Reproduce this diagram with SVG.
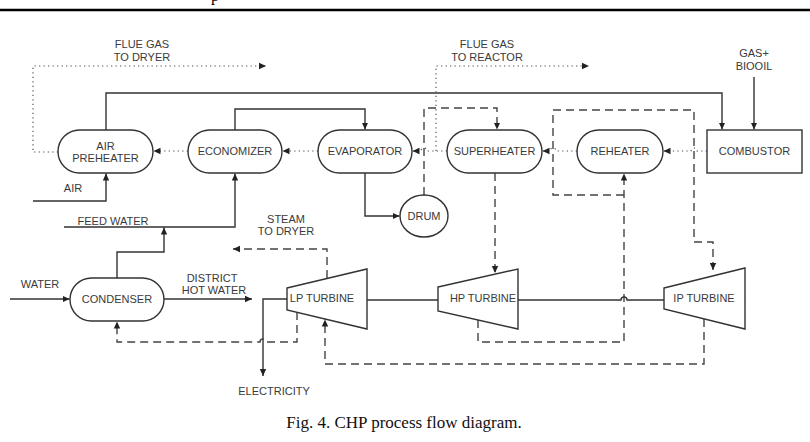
<svg xmlns="http://www.w3.org/2000/svg" width="810" height="442" viewBox="0 0 810 442">
<defs>
<marker id="ah" markerWidth="8" markerHeight="8" refX="7" refY="4" orient="auto" markerUnits="userSpaceOnUse">
<path d="M0,0.8 L7,4 L0,7.2 Z" fill="#222"/>
</marker>
</defs>
<style>
.n{fill:#fff;stroke:#333;stroke-width:1.4}
.t{font-family:"Liberation Sans",Arial,sans-serif;font-size:11px;fill:#3a3a3a;text-anchor:middle}
.s{fill:none;stroke:#333;stroke-width:1.4}
.d{fill:none;stroke:#444;stroke-width:1.4;stroke-dasharray:8 5}
.o{fill:none;stroke:#555;stroke-width:1.2;stroke-dasharray:1.3 3.2}
.a{marker-end:url(#ah)}
</style>
<rect width="810" height="442" fill="#fff"/>
<text x="211" y="1" style="font-family:'Liberation Serif',serif;font-size:16px;fill:#000">p</text>
<line x1="0" y1="10" x2="810" y2="10" stroke="#000" stroke-width="2.5"/>

<g id="connectors">
<path class="o a" d="M58,152 H33 V66 H266"/>
<path class="s a" d="M33,201 H106 V173.5"/>
<path class="s a" d="M106,130 V93 H722 V129.5"/>
<path class="o a" d="M188,151 H153.5"/>
<path class="s a" d="M235,130 V109 H365 V129.5"/>
<path class="s a" d="M64,227 H235 V173.5"/>
<path class="o a" d="M318,151 H282.5"/>
<path class="o a" d="M447,151 H427 A3,3 0 0 0 421,151 H412.5"/>
<path class="o a" d="M436,151 V66 H589"/>
<path class="s a" d="M365,173 V216 H399.5"/>
<path class="d a" d="M424,195 V108 H497 V129.5"/>
<path class="o a" d="M577,151 H556 A3,3 0 0 0 550,151 H542.5"/>
<path class="o a" d="M707,151 H697 A3,3 0 0 0 691,151 H663.5"/>
<path class="s a" d="M754,77 V129.5"/>
<path class="d a" d="M495,173 V273"/>
<path class="d a" d="M478,320 V342 H624 V173.5"/>
<path class="d a" d="M624,195 H553 V110 H694 V242 H713 V270"/>
<path class="d a" d="M704,319 V364 H325 V319.5"/>
<path class="d a" d="M297,312 V342 H266 A3,3 0 0 0 260,342 H117 V321.5"/>
<path class="d a" d="M327,278 V249 H233"/>
<path class="s a" d="M10,299 H69.5"/>
<path class="s a" d="M164,299 H252"/>
<path class="s a" d="M117,278 V252 H164 V227.5"/>
<path class="s a" d="M287,299 H263 V376"/>
<path class="s" d="M367,300 H438"/>
<path class="s" d="M518,300 H621 A3,3 0 0 1 627,300 H664"/>
</g>

<g id="air-preheater">
<rect class="n" x="58" y="130" width="95" height="43" rx="21.5"/>
<text class="t" x="105.5" y="150">AIR</text>
<text class="t" x="105.5" y="162">PREHEATER</text>
</g>
<g id="economizer">
<rect class="n" x="188" y="130" width="94" height="43" rx="21.5"/>
<text class="t" x="235" y="155">ECONOMIZER</text>
</g>
<g id="evaporator">
<rect class="n" x="318" y="130" width="94" height="43" rx="21.5"/>
<text class="t" x="365" y="155">EVAPORATOR</text>
</g>
<g id="superheater">
<rect class="n" x="447" y="130" width="95" height="43" rx="21.5"/>
<text class="t" x="494.5" y="155">SUPERHEATER</text>
</g>
<g id="reheater">
<rect class="n" x="577" y="130" width="86" height="43" rx="21.5"/>
<text class="t" x="620" y="155">REHEATER</text>
</g>
<g id="combustor">
<rect class="n" x="707" y="130" width="95" height="43"/>
<text class="t" x="754.5" y="155">COMBUSTOR</text>
</g>
<g id="drum">
<ellipse class="n" cx="424" cy="216" rx="24" ry="21"/>
<text class="t" x="424" y="220">DRUM</text>
</g>
<g id="condenser">
<rect class="n" x="70" y="278" width="94" height="43" rx="21.5"/>
<text class="t" x="117" y="303">CONDENSER</text>
</g>
<g id="lp-turbine">
<polygon class="n" points="287,288 367,269 367,329 287,310"/>
<text class="t" x="322" y="302">LP TURBINE</text>
</g>
<g id="hp-turbine">
<polygon class="n" points="438,287 518,269 518,329 438,311"/>
<text class="t" x="483" y="302">HP TURBINE</text>
</g>
<g id="ip-turbine">
<polygon class="n" points="664,288 745,268 745,329 664,309"/>
<text class="t" x="704" y="302">IP TURBINE</text>
</g>

<g id="labels">
<text class="t" x="142" y="48">FLUE GAS</text>
<text class="t" x="142" y="61">TO DRYER</text>
<text class="t" x="487" y="48">FLUE GAS</text>
<text class="t" x="487" y="61">TO REACTOR</text>
<text class="t" x="754" y="57">GAS+</text>
<text class="t" x="754" y="70">BIOOIL</text>
<text class="t" x="73" y="192">AIR</text>
<text class="t" x="113" y="225">FEED WATER</text>
<text class="t" x="286" y="223">STEAM</text>
<text class="t" x="286" y="235">TO DRYER</text>
<text class="t" x="40" y="288">WATER</text>
<text class="t" x="212" y="282">DISTRICT</text>
<text class="t" x="214" y="294">HOT WATER</text>
<text class="t" x="274" y="395">ELECTRICITY</text>
</g>
<text x="404" y="428" style="font-family:'Liberation Serif','Times New Roman',serif;font-size:17px;fill:#111;text-anchor:middle">Fig. 4. CHP process flow diagram.</text>
</svg>
